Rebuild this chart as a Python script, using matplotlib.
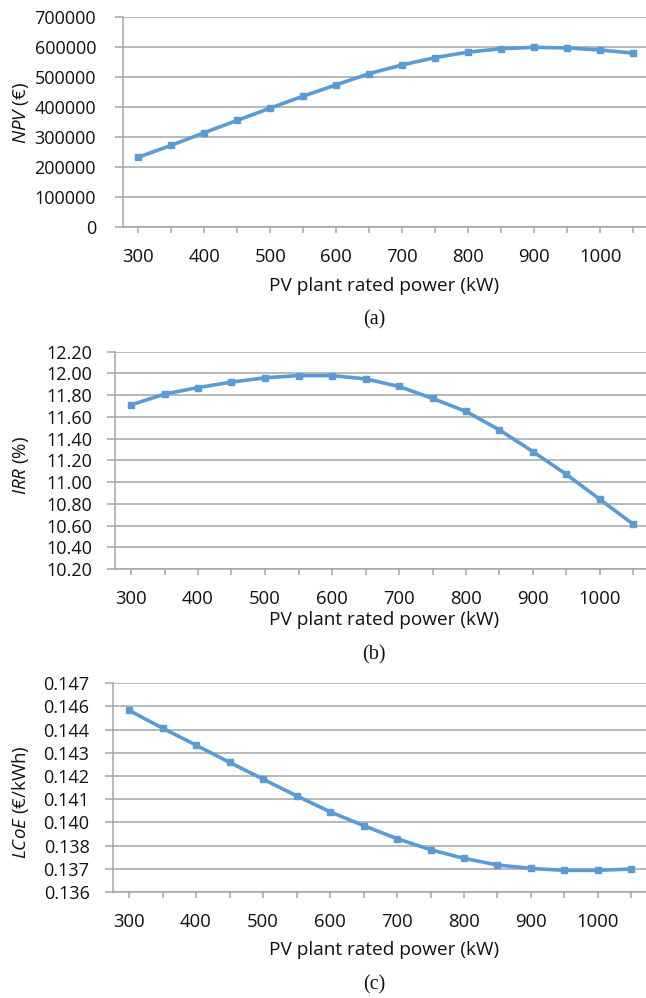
import numpy as np
import matplotlib
matplotlib.use('Agg')
import matplotlib.pyplot as plt
from matplotlib.ticker import FixedLocator, FormatStrFormatter

plt.rcParams['font.family'] = ['Open Sans', 'DejaVu Sans']
plt.rcParams['mathtext.fontset'] = 'custom'
plt.rcParams['mathtext.it'] = 'Open Sans:italic'
plt.rcParams['mathtext.rm'] = 'Open Sans'

## data
power = [300, 350, 400, 450, 500, 550, 600, 650, 700, 750, 800, 850, 900, 950, 1000, 1050]
npv = [231600, 271400, 313500, 354500, 395500, 435300, 473000, 510600,
       539400, 563800, 582000, 593500, 598000, 595800, 589000, 578600]
irr = [11.71, 11.81, 11.87, 11.92, 11.96, 11.98, 11.98, 11.95,
       11.88, 11.77, 11.65, 11.48, 11.28, 11.07, 10.84, 10.61]
lcoe = [0.14540, 0.14448, 0.14360, 0.14271, 0.14184, 0.14098, 0.14015, 0.13944,
        0.13876, 0.13819, 0.13774, 0.13740, 0.13722, 0.13712, 0.13712, 0.13719]

npv_ticks = np.arange(0, 700001, 100000)
irr_ticks = np.arange(10.2, 12.2001, 0.2)
lcoe_ticks = 0.136 + 0.0012 * np.arange(10)
x_major = [300, 400, 500, 600, 700, 800, 900, 1000]

W, H = 646, 998
blue = '#5B9BD5'
grid = '#A5A5A5'

fig = plt.figure(figsize=[W/100, H/100], dpi=100)

def px_axes(left, top, bottom, x300, sp):
    ax = fig.add_axes([left/W, 1-bottom/H, (W-left)/W, (bottom-top)/H])
    ax.set_xlim(300 - (x300-left)/sp*50, 300 + (W-x300)/sp*50)
    return ax

def style(ax, ticks, fmt, ypad):
    ax.set_ylim(ticks[0], ticks[-1])
    ax.yaxis.set_major_locator(FixedLocator(ticks))
    ax.yaxis.set_major_formatter(FormatStrFormatter(fmt))
    ax.xaxis.set_major_locator(FixedLocator(x_major))
    ax.xaxis.set_minor_locator(FixedLocator([p for p in power if p not in x_major]))
    ax.grid(axis='y', color=grid, lw=1.1)
    ax.set_axisbelow(True)
    for s in ['top', 'right']:
        ax.spines[s].set_visible(False)
    for s in ['left', 'bottom']:
        ax.spines[s].set_color(grid)
        ax.spines[s].set_linewidth(1.1)
    ax.tick_params(axis='y', length=6, width=1.1, color=grid, pad=ypad,
                   labelsize=13, labelcolor='#111111')
    ax.tick_params(axis='x', which='both', length=4, width=1.1, color=grid,
                   pad=11, labelsize=13.3, labelcolor='#111111')

## (a) NPV
ax1 = px_axes(122.5, 16.7, 226.7, 138.3, 33.0)
ax1.plot(power, npv, color=blue, lw=2.6, marker='s', ms=4, clip_on=False)
style(ax1, npv_ticks, '%d', 13)

## (b) IRR
ax2 = px_axes(114.5, 351.7, 569.0, 131.0, 33.5)
ax2.plot(power, irr, color=blue, lw=2.6, marker='s', ms=4, clip_on=False)
style(ax2, irr_ticks, '%.2f', 10)

## (c) LCoE
ax3 = px_axes(112.5, 683.3, 892.0, 129.0, 33.5)
ax3.plot(power, lcoe, color=blue, lw=2.6, marker='s', ms=4, clip_on=False)
style(ax3, lcoe_ticks, '%.3f', 10.5)

xl = 'PV plant rated power (kW)'
for y in [285.7, 619.7, 949.7]:
    fig.text(384/W, 1-y/H, xl, ha='center', va='center', fontsize=13.7, color='#111111')
for y, lab in [(320, '(a)'), (655, '(b)'), (985.3, '(c)')]:
    fig.text(374/W, 1-y/H, lab, ha='center', va='center', fontsize=14.5,
             family='Liberation Serif', color='#111111')

fig.text(21/W, 1-113/H, r'$\mathit{NPV}$ (€)', rotation=90, ha='center', va='center',
         fontsize=13.5, color='#111111')
fig.text(21/W, 1-465/H, r'$\mathit{IRR}$ (%)', rotation=90, ha='center', va='center',
         fontsize=13.5, color='#111111')
fig.text(21/W, 1-802/H, r'$\mathit{LCoE}$ (€/kWh)', rotation=90, ha='center', va='center',
         fontsize=13.5, color='#111111')

plt.savefig('out.png', dpi=100)
plt.close()
